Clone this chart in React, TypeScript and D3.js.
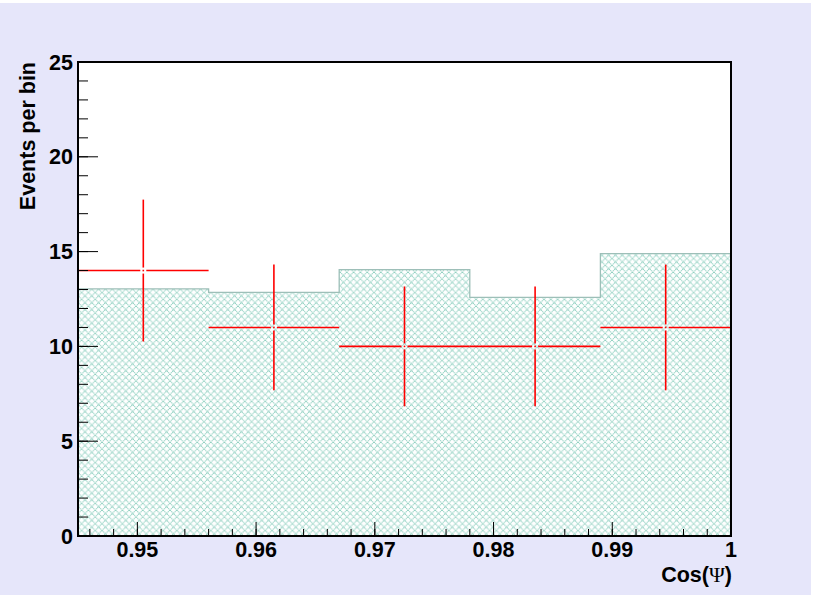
import React from "react";
import * as d3 from "d3";

// Histogram bin edges (Cos Psi) and contents
const binEdges = [0.945, 0.956, 0.967, 0.978, 0.989, 1.0];
const expected = [13.03, 12.85, 14.05, 12.59, 14.89];
// Observed counts per bin, drawn with sqrt(N) errors
const observed = [14, 11, 10, 10, 11];
const xTicks = [0.95, 0.96, 0.97, 0.98, 0.99, 1];
const xTickLabels = ["0.95", "0.96", "0.97", "0.98", "0.99", "1"];
const yTicks = [0, 5, 10, 15, 20, 25];

const W = 814;
const H = 598;
const frame = { left: 78, right: 731, top: 62, bottom: 536 };

export default function App() {
  const x = d3.scaleLinear().domain([0.945, 1.0]).range([frame.left, frame.right]);
  const y = d3.scaleLinear().domain([0, 25]).range([frame.bottom, frame.top]);

  // Step outline of the expected histogram
  const stepPts: [number, number][] = [];
  expected.forEach((v, i) => {
    stepPts.push([x(binEdges[i]), y(v)]);
    stepPts.push([x(binEdges[i + 1]), y(v)]);
  });
  const areaPath =
    `M${x(binEdges[0])},${y(0)} ` +
    stepPts.map((p) => `L${p[0]},${p[1]}`).join(" ") +
    ` L${x(binEdges[binEdges.length - 1])},${y(0)} Z`;
  const outline = d3.line()(stepPts) as string;

  const minorX = d3.range(0, 28).map((i) => 0.946 + i * 0.002).filter((v) => v <= 1.0001);
  const minorY = d3.range(0, 26);

  const font = "'Liberation Sans', Arial, Helvetica, sans-serif";
  const gap = 3;

  return (
    <svg width={W} height={H} style={{ position: "absolute", left: 0, top: 0 }}>
      <defs>
        <pattern id="hatch" width="6.8" height="6.8" patternUnits="userSpaceOnUse">
          <path d="M0,0 L6.8,6.8 M6.8,0 L0,6.8" stroke="#84cbba" strokeWidth="1" strokeDasharray="1.2,0.6" />
        </pattern>
      </defs>
      <rect x={0} y={0} width={W} height={H} fill="#ffffff" />
      <rect x={0} y={3} width={811} height={592} fill="#e6e6fa" />
      <rect x={frame.left} y={frame.top} width={frame.right - frame.left} height={frame.bottom - frame.top} fill="#ffffff" />

      <path d={areaPath} fill="url(#hatch)" />
      <path d={outline} fill="none" stroke="#9dbfb8" strokeWidth={1.3} />

      {/* observed points with error bars */}
      {observed.map((n, i) => {
        const x0 = x(binEdges[i]);
        const x1 = x(binEdges[i + 1]);
        const cx = x((binEdges[i] + binEdges[i + 1]) / 2);
        const cy = y(n);
        const e = Math.sqrt(n);
        return (
          <g key={i} stroke="#ff0000" strokeWidth={1.6}>
            <line x1={x0} x2={cx - gap} y1={cy} y2={cy} />
            <line x1={cx + gap} x2={x1} y1={cy} y2={cy} />
            <line x1={cx} x2={cx} y1={y(n + e)} y2={cy - gap} />
            <line x1={cx} x2={cx} y1={cy + gap} y2={y(n - e)} />
            <rect x={cx - 0.8} y={cy - 0.8} width={1.6} height={1.6} fill="#ff0000" stroke="none" />
          </g>
        );
      })}

      {/* ticks */}
      <g stroke="#000" strokeWidth={1}>
        {minorX.map((v, i) => (
          <line key={"mx" + i} x1={x(v)} x2={x(v)} y1={frame.bottom} y2={frame.bottom - 7} />
        ))}
        {xTicks.map((v, i) => (
          <line key={"Mx" + i} x1={x(v)} x2={x(v)} y1={frame.bottom} y2={frame.bottom - 14} />
        ))}
        {minorY.map((v, i) => (
          <line key={"my" + i} x1={frame.left} x2={frame.left + 10} y1={y(v)} y2={y(v)} />
        ))}
        {yTicks.map((v, i) => (
          <line key={"My" + i} x1={frame.left} x2={frame.left + 20} y1={y(v)} y2={y(v)} />
        ))}
      </g>

      <rect x={frame.left} y={frame.top} width={frame.right - frame.left} height={frame.bottom - frame.top} fill="none" stroke="#000" strokeWidth={2} />

      {/* tick labels */}
      <g fontFamily={font} fontWeight="bold" fontSize={21.5} fill="#000">
        {xTicks.map((v, i) => (
          <text key={"lx" + i} x={x(v)} y={557} textAnchor="middle">{xTickLabels[i]}</text>
        ))}
        {yTicks.map((v, i) => (
          <text key={"ly" + i} x={73} y={y(v) + 7.5} textAnchor="end">{String(v)}</text>
        ))}
        <text x={frame.right + 1} y={582} textAnchor="end">
          Cos(<tspan fontFamily="'Liberation Serif', 'Times New Roman', serif" fontWeight="normal">Ψ</tspan>)
        </text>
        <text transform={`translate(35,${frame.top}) rotate(-90)`} textAnchor="end">Events per bin</text>
      </g>
    </svg>
  );
}
